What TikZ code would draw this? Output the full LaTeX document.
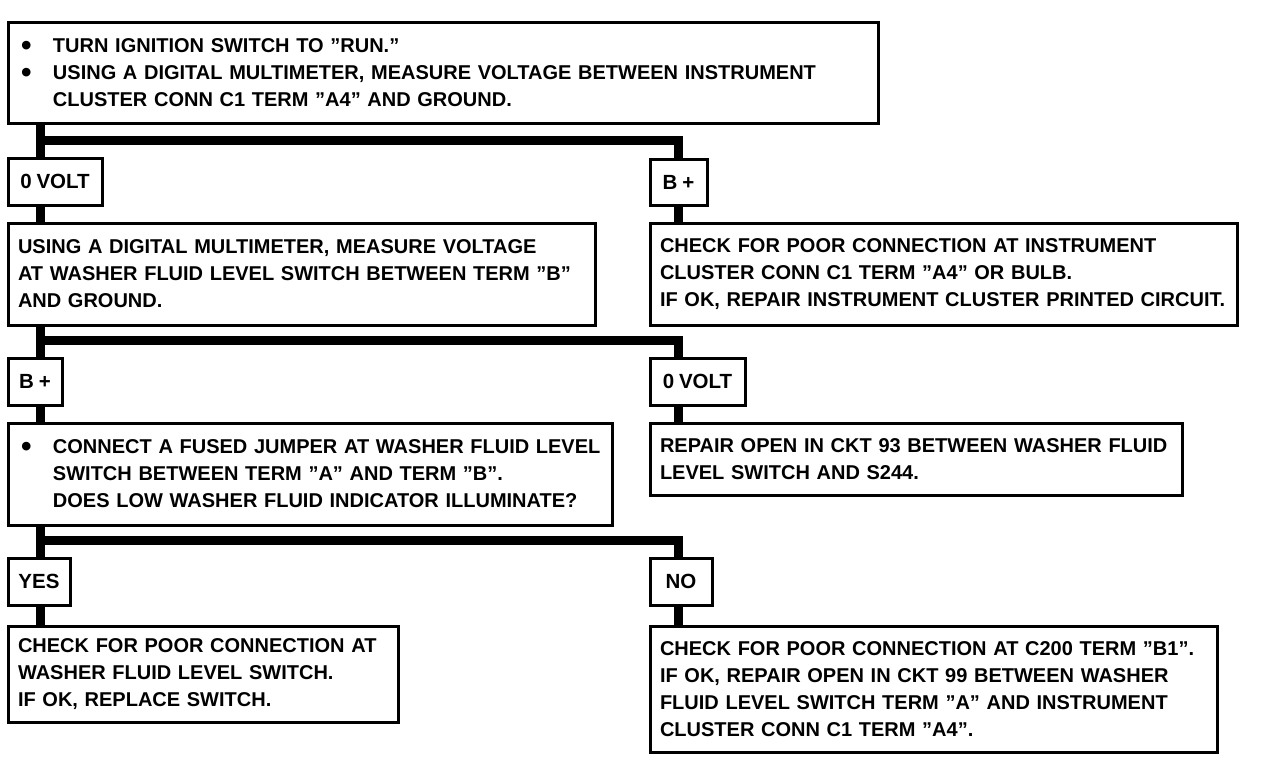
\documentclass[tikz,border=0pt]{standalone}
\usepackage{fontspec}
\setmainfont{Liberation Sans}[WordSpace=0.85]
\newcommand\bul{\makebox[35pt][l]{\hspace{3pt}\smash{\raisebox{-3pt}{\scalebox{1.5}{\textbullet}}}}}
\newcommand\ind{\hspace*{35pt}}
\newcommand\tline[1]{\mbox{#1}}
\begin{document}
\begin{tikzpicture}[x=1pt,y=-1pt,
  box/.style={draw, line width=3pt, anchor=north west, inner xsep=10pt, inner ysep=0pt,
    align=left, font=\fontsize{20}{27}\selectfont\bfseries},
  tag/.style={draw, line width=3pt, anchor=north west, inner sep=0pt,
    font=\fontsize{20.5}{27}\selectfont\bfseries},
  conn/.style={line width=9pt, line join=miter}]
\fill[white] (0,0) rectangle (1264,756);
\useasboundingbox (0,0) rectangle (1264,756);

% level 1
\node[box, minimum width=870, minimum height=101, text width=850] (b1) at (6.5,20.5)
 {\tline{\bul TURN IGNITION SWITCH TO "RUN."}\\
  \tline{\bul USING A DIGITAL MULTIMETER, MEASURE VOLTAGE BETWEEN INSTRUMENT}\\
  \tline{\ind CLUSTER CONN C1 TERM "A4" AND GROUND.}};
\node[tag, minimum width=94, minimum height=47] (a1) at (6.5,156.5) {0 VOLT};
\node[tag, minimum width=57, minimum height=46] (r1) at (648.5,157.5) {B +};

% level 2
\node[box, minimum width=587, minimum height=102, text width=567] (b2) at (6.5,221.5)
 {\tline{USING A DIGITAL MULTIMETER, MEASURE VOLTAGE}\\
  \tline{AT WASHER FLUID LEVEL SWITCH BETWEEN TERM "B"}\\
  \tline{AND GROUND.}};
\node[box, minimum width=587, minimum height=102, text width=567] (b2r) at (648.5,221.5)
 {\tline{CHECK FOR POOR CONNECTION AT INSTRUMENT}\\
  \tline{CLUSTER CONN C1 TERM "A4" OR BULB.}\\
  \tline{IF OK, REPAIR INSTRUMENT CLUSTER PRINTED CIRCUIT.}};
\node[tag, minimum width=54, minimum height=47] (c1) at (6.5,356.5) {B +};
\node[tag, minimum width=95, minimum height=47] (c2) at (648.5,356.5) {0 VOLT};

% level 3
\node[box, minimum width=604, minimum height=102, text width=584] (b3) at (6.5,421.5)
 {\tline{\bul CONNECT A FUSED JUMPER AT WASHER FLUID LEVEL}\\
  \tline{\ind SWITCH BETWEEN TERM "A" AND TERM "B".}\\
  \tline{\ind DOES LOW WASHER FLUID INDICATOR ILLUMINATE?}};
\node[box, minimum width=532, minimum height=72, text width=512] (b3r) at (648.5,421.5)
 {\tline{REPAIR OPEN IN CKT 93 BETWEEN WASHER FLUID}\\
  \tline{LEVEL SWITCH AND S244.}};
\node[tag, minimum width=62, minimum height=47] (d1) at (6.5,556.5) {YES};
\node[tag, minimum width=62, minimum height=47] (d2) at (648.5,556.5) {NO};

% level 4
\node[box, minimum width=390, minimum height=96, text width=370] (b4) at (6.5,624.5)
 {\tline{CHECK FOR POOR CONNECTION AT}\\
  \tline{WASHER FLUID LEVEL SWITCH.}\\
  \tline{IF OK, REPLACE SWITCH.}};
\node[box, minimum width=567, minimum height=126, text width=547] (b4r) at (648.5,624.5)
 {\tline{CHECK FOR POOR CONNECTION AT C200 TERM "B1".}\\
  \tline{IF OK, REPAIR OPEN IN CKT 99 BETWEEN WASHER}\\
  \tline{FLUID LEVEL SWITCH TERM "A" AND INSTRUMENT}\\
  \tline{CLUSTER CONN C1 TERM "A4".}};

% connectors
\coordinate (j1) at (40,140);  \coordinate (k1) at (678,140);
\coordinate (j2) at (40,340);  \coordinate (k2) at (678,340);
\coordinate (j3) at (40,540);  \coordinate (k3) at (678,540);

\draw[conn] (b1.south -| j1) -- (a1.north -| j1);
\draw[conn] (j1) -- (k1) -- (r1.north -| k1);
\draw[conn] (a1.south -| j1) -- (b2.north -| j1);
\draw[conn] (r1.south -| k1) -- (b2r.north -| k1);

\draw[conn] (b2.south -| j2) -- (c1.north -| j2);
\draw[conn] (j2) -- (k2) -- (c2.north -| k2);
\draw[conn] (c1.south -| j2) -- (b3.north -| j2);
\draw[conn] (c2.south -| k2) -- (b3r.north -| k2);

\draw[conn] (b3.south -| j3) -- (d1.north -| j3);
\draw[conn] (j3) -- (k3) -- (d2.north -| k3);
\draw[conn] (d1.south -| j3) -- (b4.north -| j3);
\draw[conn] (d2.south -| k3) -- (b4r.north -| k3);
\end{tikzpicture}
\end{document}
